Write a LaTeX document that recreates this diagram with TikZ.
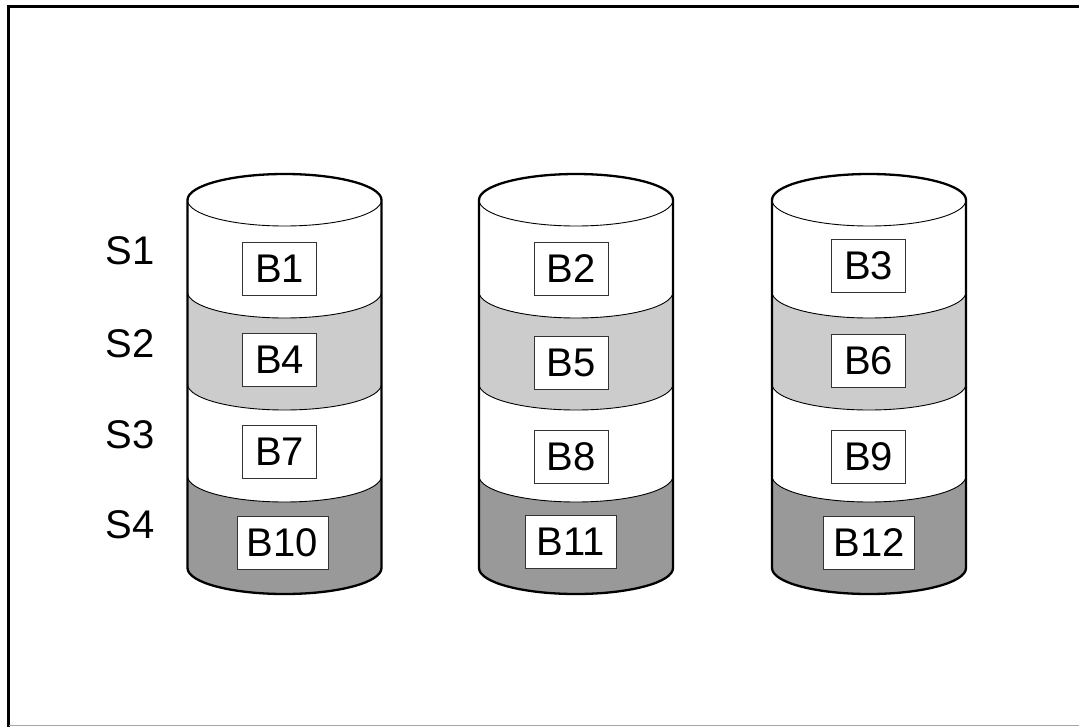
\documentclass[tikz,border=0pt]{standalone}
\usepackage{fontspec}
\setmainfont{Liberation Sans}
\definecolor{lightband}{HTML}{CCCCCC}
\definecolor{darkband}{HTML}{999999}
\definecolor{boxline}{HTML}{333333}
\newcommand{\cylband}[4]{% cx, ytop, ybot, colour
  \fill[#4] ({#1-97},#2) arc[start angle=180,end angle=360,x radius=97,y radius=26]
    -- ({#1+97},#3) arc[start angle=0,end angle=-180,x radius=97,y radius=26] -- cycle;}
\newcommand{\cyldisk}[1]{% cx
  \cylband{#1}{-200}{-292}{white}
  \cylband{#1}{-292}{-384}{lightband}
  \cylband{#1}{-384}{-476}{white}
  \cylband{#1}{-476}{-568}{darkband}
  \fill[white] (#1,-200) ellipse[x radius=97,y radius=26];
  \foreach \yy in {-200,-292,-384,-476}{
    \draw[thinline] ({#1-97},\yy) arc[start angle=180,end angle=360,x radius=97,y radius=26];}
  \draw[thickline] ({#1-97},-568) -- ({#1-97},-200)
    arc[start angle=180,end angle=0,x radius=97,y radius=26]
    -- ({#1+97},-568) arc[start angle=0,end angle=-180,x radius=97,y radius=26] -- cycle;}
\begin{document}
\begin{tikzpicture}[x=1pt,y=1pt,
  thickline/.style={line width=2.3pt, line join=round},
  thinline/.style={line width=0.9pt},
  blk/.style={draw=boxline, line width=0.9pt, fill=white, minimum height=53pt,
    inner sep=0pt, font=\fontsize{40}{40}\selectfont},
  smallblk/.style={blk, minimum width=74pt},
  bigblk/.style={blk, minimum width=91pt},
  lbl/.style={font=\fontsize{40}{40}\selectfont, inner sep=0pt}]
\useasboundingbox (0,0) rectangle (1079,-726);
\fill[white] (0,0) rectangle (1079,-726);
% frame
\draw[line width=3pt] (8.5,-727) -- (8.5,-6.5) -- (1080,-6.5);
\draw[black!35, line width=1.2pt] (8.5,-725.4) -- (1080,-725.4);
% cylinders
\cyldisk{284.5}
\cyldisk{576}
\cyldisk{869}
% stripe labels
\node[lbl] (s1) at (130,-251) {S1};
\node[lbl] (s2) at (130,-343.5) {S2};
\node[lbl] (s3) at (130,-435) {S3};
\node[lbl] (s4) at (130,-525) {S4};
% blocks
\node[smallblk] (b1) at (279.5,-269) {B1};
\node[smallblk] (b2) at (571,-269) {B2};
\node[smallblk] (b3) at (868.5,-266) {B3};
\node[smallblk] (b4) at (279.5,-360) {B4};
\node[smallblk] (b5) at (571,-362.5) {B5};
\node[smallblk] (b6) at (868.5,-360.5) {B6};
\node[smallblk] (b7) at (279.5,-451.5) {B7};
\node[smallblk] (b8) at (571,-456.5) {B8};
\node[smallblk] (b9) at (868.5,-456.5) {B9};
\node[bigblk] (b10) at (282.5,-542.5) {B10};
\node[bigblk] (b11) at (571,-542) {B11};
\node[bigblk] (b12) at (869,-542.5) {B12};
\end{tikzpicture}
\end{document}
